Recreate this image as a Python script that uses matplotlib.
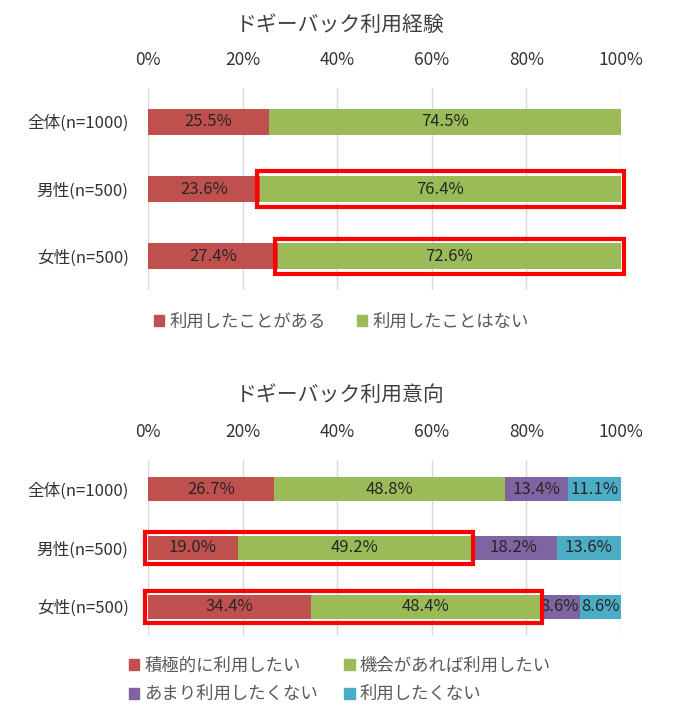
import matplotlib.pyplot as plt
from matplotlib.patches import Patch, Rectangle

plt.rcParams['font.family'] = ['Noto Sans CJK JP', 'DejaVu Sans']

# ---- data ----
groups = ["全体(n=1000)", "男性(n=500)", "女性(n=500)"]

exp_labels = ["利用したことがある", "利用したことはない"]
exp_values = [
    [25.5, 23.6, 27.4],
    [74.5, 76.4, 72.6],
]

int_labels = ["積極的に利用したい", "機会があれば利用したい", "あまり利用したくない", "利用したくない"]
int_values = [
    [26.7, 19.0, 34.4],
    [48.8, 49.2, 48.4],
    [13.4, 18.2, 8.6],
    [11.1, 13.6, 8.6],
]

# highlighted (row, first segment, last segment)
exp_boxes = [(1, 1, 1), (2, 1, 1)]
int_boxes = [(1, 0, 1), (2, 0, 1)]

colors = ["#C0504D", "#9BBB59", "#8064A2", "#4BACC6"]
num_font = ['Liberation Sans Narrow', 'Noto Sans CJK JP']


def stacked(ax, values, bar_h, boxes):
    y = list(range(len(groups)))
    left = [0.0] * len(groups)
    lefts = []
    for i, vals in enumerate(values):
        ax.barh(y, vals, left=left, height=bar_h, color=colors[i], zorder=2)
        for j, v in enumerate(vals):
            ax.text(left[j] + v / 2, j, f"{v:.1f}%", ha="center", va="center",
                    fontsize=12, color="#262626", family=num_font, zorder=3)
        lefts.append(list(left))
        left = [a + b for a, b in zip(left, vals)]
    # red highlight boxes
    for row, s0, s1 in boxes:
        x0 = lefts[s0][row]
        x1 = lefts[s1][row] + values[s1][row]
        px, py = 0.6, 0.07
        ax.add_patch(Rectangle((x0 - px, row - bar_h / 2 - py), x1 - x0 + 2 * px,
                               bar_h + 2 * py, fill=False, edgecolor="#FF0000",
                               linewidth=3, zorder=4, clip_on=False))
    ax.set_xlim(0, 100)
    ax.set_ylim(2.5, -0.5)
    ax.set_yticks(y)
    ax.set_yticklabels(groups, fontsize=12, color="#333333")
    ax.set_xticks(range(0, 101, 20))
    ax.set_xticklabels([f"{t}%" for t in range(0, 101, 20)], fontsize=12.5,
                       color="#333333", family=num_font)
    ax.xaxis.tick_top()
    ax.tick_params(length=0)
    ax.tick_params(axis="x", pad=14)
    ax.tick_params(axis="y", pad=14)
    ax.grid(axis="x", color="#D9D9D9", linewidth=1, zorder=0)
    for s in ax.spines.values():
        s.set_visible(False)


fig = plt.figure(figsize=(6.77, 7.08), dpi=100)

# ---- top chart: experience ----
ax1 = fig.add_axes([148 / 677, 1 - 290 / 708, 473 / 677, 202 / 708])
stacked(ax1, exp_values, 0.385, exp_boxes)
fig.text(0.502, 1 - 25 / 708, "ドギーバック利用経験", ha="center", va="center",
         fontsize=15, color="#404040")
h1 = [Patch(color=colors[i]) for i in range(2)]
fig.legend(h1, exp_labels, loc="center", bbox_to_anchor=(0.504, 1 - 322 / 708),
           ncol=2, frameon=False, fontsize=12.5, handlelength=0.6, handleheight=0.6,
           handletextpad=0.3, columnspacing=1.8, labelcolor="#595959")

# ---- bottom chart: intention ----
ax2 = fig.add_axes([148 / 677, 1 - 636 / 708, 473 / 677, 176 / 708])
stacked(ax2, int_values, 0.41, int_boxes)
fig.text(0.502, 1 - 395 / 708, "ドギーバック利用意向", ha="center", va="center",
         fontsize=15, color="#404040")
h2 = [Patch(color=colors[i]) for i in range(4)]
order = [0, 2, 1, 3]
fig.legend([h2[i] for i in order], [int_labels[i] for i in order], loc="center",
           bbox_to_anchor=(0.502, 1 - 680 / 708), ncol=2, frameon=False, fontsize=12.5,
           handlelength=0.6, handleheight=0.6, handletextpad=0.3,
           columnspacing=1.5, labelspacing=0.6, labelcolor="#595959")

fig.savefig("out.png", dpi=100, facecolor="white")
